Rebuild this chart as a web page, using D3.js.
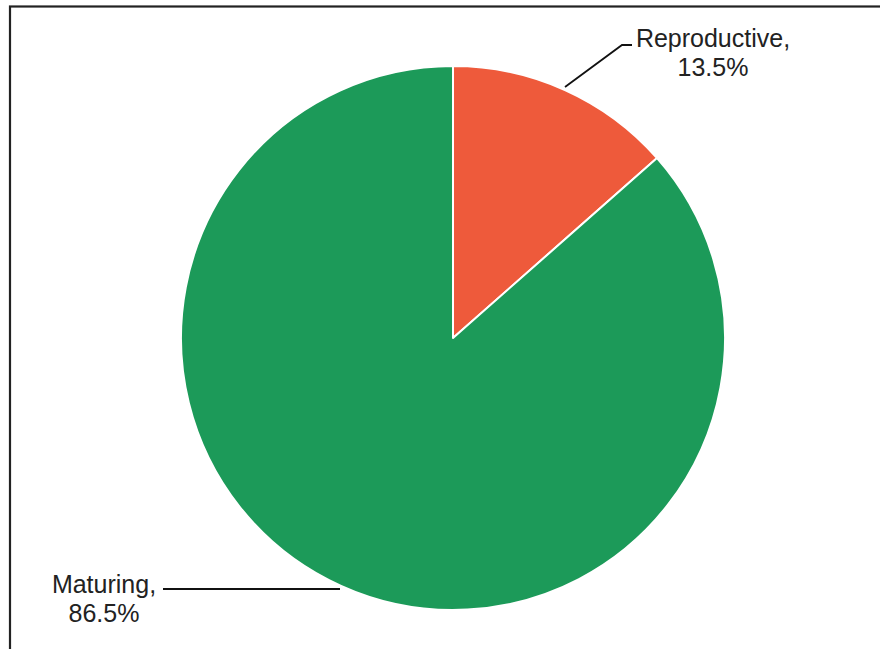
<!DOCTYPE html>
<html><head><meta charset="utf-8">
<script src="https://cdn.jsdelivr.net/npm/d3@7"></script>
<style>html,body{margin:0;padding:0;background:#fff;}svg{display:block;}</style>
</head><body>
<svg id="chart" width="880" height="649"></svg>
<script>
const categories = ["Reproductive", "Maturing"];
const values = [13.5, 86.5];
const labels = ["13.5%", "86.5%"];
const colors = ["#EE5A3B", "#1C9A59"];

const W = 880, H = 649;
const cx = 453, cy = 338, r = 272;
const svg = d3.select("#chart");

// frame
svg.append("rect").attr("x", 10).attr("y", 6.5).attr("width", 900).attr("height", 700)
  .attr("fill", "none").attr("stroke", "#222").attr("stroke-width", 2.2);

const pie = d3.pie().sort(null).value(d => d)(values);
const arc = d3.arc().innerRadius(0).outerRadius(r);
const g = svg.append("g").attr("transform", `translate(${cx},${cy})`);
g.selectAll("path").data(pie).join("path")
  .attr("d", arc)
  .attr("fill", (d, i) => colors[i])
  .attr("stroke", "#fff").attr("stroke-width", 2).attr("stroke-linejoin", "round");

// leader lines & labels
const lab = [
  {pts: [[565, 87], [622, 45], [632, 45]], tx: 713, ty: [47, 76]},
  {pts: [[340, 589], [163, 589]], tx: 104, ty: [593, 622]}
];
const line = d3.line();
lab.forEach((L, i) => {
  svg.append("path").attr("d", line(L.pts)).attr("fill", "none")
    .attr("stroke", "#111").attr("stroke-width", 1.8);
  const t = svg.append("text").attr("text-anchor", "middle")
    .attr("font-family", "Liberation Sans, Arial, sans-serif").attr("font-size", 25).attr("fill", "#222");
  t.append("tspan").attr("x", L.tx).attr("y", L.ty[0]).text(categories[i] + ",");
  t.append("tspan").attr("x", L.tx).attr("y", L.ty[1]).text(labels[i]);
});
</script>
</body></html>
